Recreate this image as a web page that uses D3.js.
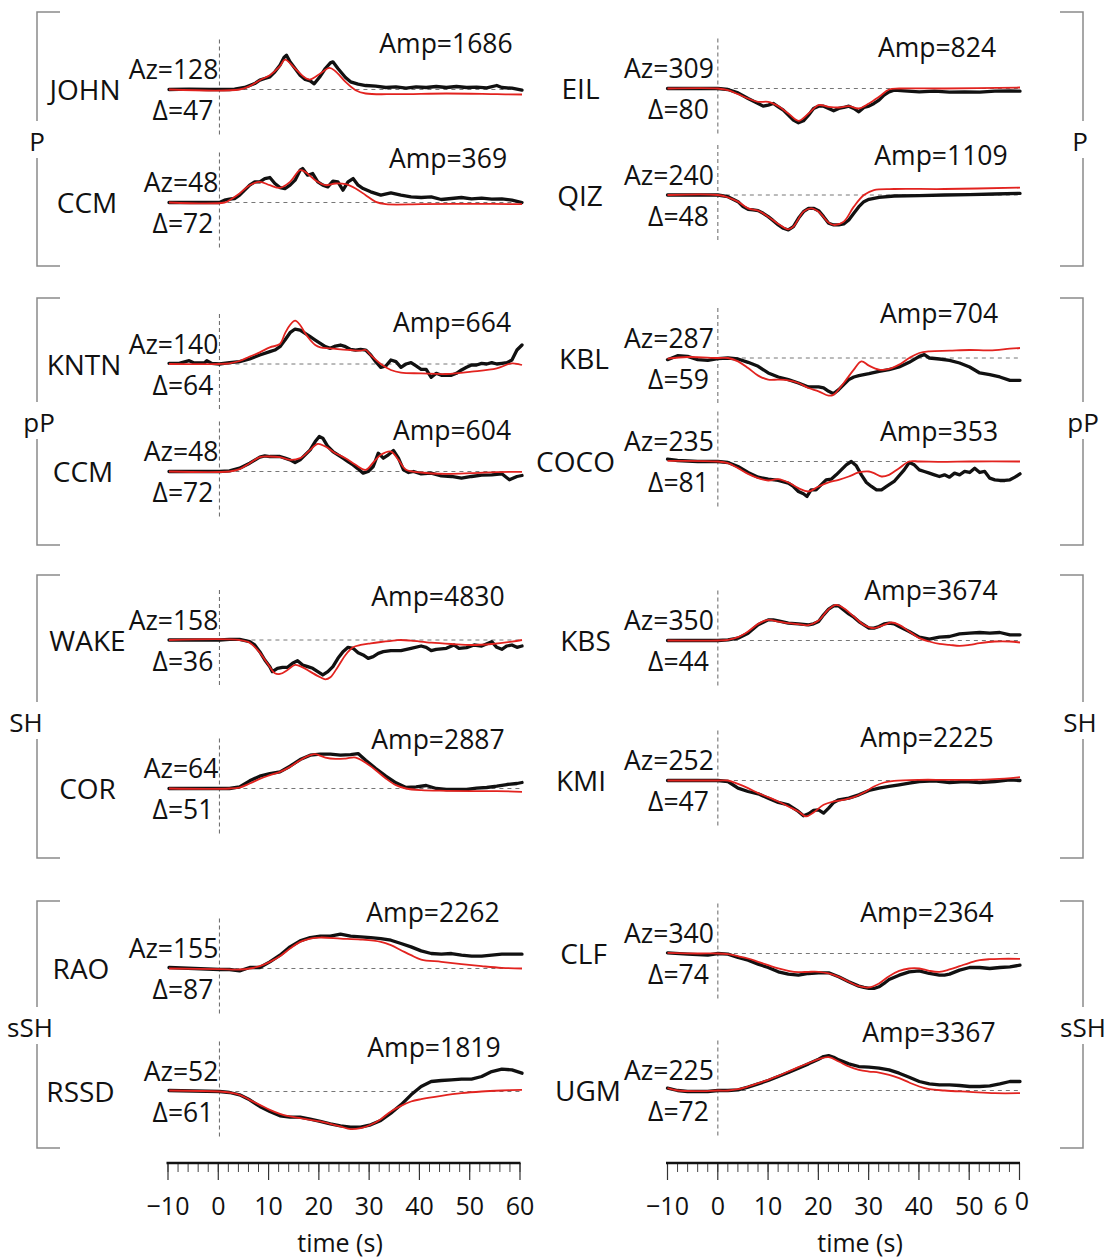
<!DOCTYPE html>
<html>
<head>
<meta charset="utf-8">
<script src="https://cdn.jsdelivr.net/npm/d3@7"></script>
<style>
  body { margin: 0; background: #fff; }
  svg { display: block; }
  text { font-family: "Open Sans", "Noto Sans", sans-serif; fill: #111; }
</style>
</head>
<body>
<svg id="chart" width="1109" height="1259"></svg>
<script>
// ---- Station metadata (left column top→bottom, then right column) ----
const stations   = ["JOHN","CCM","KNTN","CCM","WAKE","COR","RAO","RSSD","EIL","QIZ","KBL","COCO","KBS","KMI","CLF","UGM"];
const azimuths   = [128,48,140,48,158,64,155,52,309,240,287,235,350,252,340,225];
const distances  = [47,72,64,72,36,51,87,61,80,48,59,81,44,47,74,72];
const amplitudes = [1686,369,664,604,4830,2887,2262,1819,824,1109,704,353,3674,2225,2364,3367];
const phases     = ["P","pP","SH","sSH"];
const timeTicks  = [-10,0,10,20,30,40,50,60];

// ---- Waveforms: [time (s), normalised displacement]; obs = data, syn = synthetic ----
const johnObs = [[-10,0],[-6,0.01],[-2,0],[2,0],[3,0.01],[5,0.06],[7,0.18],[8,0.28],[9,0.33],[10,0.38],[11,0.53],[12,0.73],[12.8,0.96],[13.3,1.03],[14,0.83],[15,0.63],[16,0.43],[17,0.30],[18,0.26],[18.8,0.17],[20,0.40],[21,0.63],[22,0.80],[22.5,0.83],[23.5,0.63],[25,0.36],[26,0.23],[27.5,0.16],[29,0.12],[31,0.10],[33,0.06],[35,0.08],[37,0.04],[39,0.08],[41,0.06],[43,0.09],[45,0.06],[47,0.09],[49,0.06],[51,0.07],[53,0.05],[55,0.12],[56,0.06],[58,0.04],[60,-0.02]];
const johnSyn = [[-10,0],[4,0],[6,0.10],[8,0.28],[10,0.43],[12,0.70],[13,0.90],[15,0.63],[17,0.35],[18,0.30],[20,0.48],[21.8,0.65],[23,0.55],[25,0.23],[27,-0.02],[29,-0.12],[35,-0.14],[45,-0.12],[55,-0.14],[60,-0.15]];

const ccmPObs = [[-10,0],[0,0],[1,0.07],[2,0.10],[3,0.12],[4,0.22],[5,0.37],[6,0.52],[7,0.62],[8,0.62],[9,0.72],[10,0.75],[11,0.57],[12,0.45],[13,0.42],[14,0.52],[15,0.67],[16,0.97],[16.5,1.02],[17.5,0.82],[18.5,0.87],[19.5,0.62],[20.5,0.52],[21.5,0.47],[22.5,0.64],[23.5,0.62],[24.5,0.37],[25.5,0.62],[26.5,0.72],[27.5,0.52],[28.5,0.42],[30,0.32],[32,0.22],[34,0.29],[36,0.22],[38,0.17],[40,0.15],[42,0.17],[44,0.09],[46,0.12],[48,0.15],[50,0.11],[52,0.13],[54,0.10],[56,0.11],[58,0.07],[60,0]];
const ccmPSyn = [[-10,0],[1,0],[2,0.07],[4,0.27],[6,0.52],[8,0.62],[10,0.52],[12,0.44],[14,0.62],[16,0.97],[17,0.92],[19,0.67],[21,0.52],[23,0.57],[25,0.55],[27,0.42],[29,0.22],[31,0.02],[33,-0.05],[40,-0.05],[50,-0.04],[60,-0.05]];

const kntnObs = [[-10,0.02],[-8,0.02],[-6,0.10],[-5,0.03],[-3,0.03],[-2.5,0.10],[-1.5,0.02],[0,0],[2,0.04],[4,0.07],[6,0.15],[8,0.27],[10,0.37],[11,0.42],[12,0.52],[13,0.72],[14,0.94],[15,1.05],[16,1.02],[17,0.92],[18,0.82],[19,0.72],[20,0.62],[21,0.52],[22,0.47],[23,0.54],[24,0.57],[25,0.52],[26,0.44],[27,0.42],[28,0.44],[29,0.42],[30,0.27],[31,0.07],[32,-0.10],[33,-0.06],[34,0.12],[35,0.07],[36,-0.10],[37,0],[38,0.04],[39,-0.06],[40,-0.16],[41,-0.16],[42,-0.40],[43,-0.28],[44,-0.34],[45,-0.33],[46,-0.34],[47,-0.28],[48,-0.18],[49,-0.10],[50,-0.03],[51,-0.03],[52,0.02],[53,0],[54,0.04],[55,0],[56,0.02],[57,0.04],[58,0.12],[59,0.42],[60,0.57]];
const kntnSyn = [[-10,0],[0,0],[2,0.02],[4,0.09],[6,0.22],[8,0.35],[10,0.50],[12,0.60],[13,0.92],[14,1.17],[15,1.30],[16,1.17],[17,0.92],[18,0.72],[19,0.57],[20,0.50],[22,0.47],[24,0.44],[26,0.42],[28,0.40],[29,0.42],[30,0.27],[32,0],[34,-0.18],[36,-0.26],[40,-0.28],[45,-0.30],[50,-0.23],[55,-0.13],[58,0.02],[60,-0.03]];

const ccmPPObs = [[-10,0],[0,0],[2,0.02],[4,0.10],[6,0.25],[8,0.43],[9,0.47],[10,0.45],[11,0.45],[12,0.45],[13,0.40],[14,0.35],[15,0.27],[16,0.35],[17,0.50],[18,0.65],[19,0.90],[19.8,1.05],[20.5,1.00],[21.5,0.75],[22.5,0.60],[23.5,0.50],[24.5,0.40],[25.5,0.30],[26.5,0.20],[27.5,0.08],[28.5,-0.05],[29.5,0],[30.5,0.15],[31.5,0.55],[32.5,0.40],[33.5,0.50],[34.5,0.63],[35.5,0.40],[36.5,0.05],[37.5,-0.03],[38.5,0],[40,-0.07],[42,-0.05],[44,-0.13],[46,-0.15],[48,-0.20],[50,-0.15],[52,-0.11],[54,-0.10],[56,-0.07],[57.5,-0.25],[59,-0.15],[60,-0.12]];
const ccmPPSyn = [[-10,0],[2,0],[4,0.07],[6,0.25],[8,0.43],[10,0.45],[12,0.43],[14,0.35],[16,0.40],[18,0.65],[19.5,0.83],[21,0.75],[23,0.55],[25,0.40],[27,0.20],[29,0.05],[30.5,0.27],[32,0.50],[34,0.60],[35.5,0.35],[37,0.05],[40,-0.03],[45,-0.07],[50,-0.05],[55,-0.02],[60,-0.01]];

const wakeObs = [[-10,0],[0,0],[2,0.02],[4,0.02],[6,-0.05],[7,-0.15],[8,-0.35],[9,-0.60],[10,-0.80],[10.5,-0.95],[11.5,-0.85],[12.5,-0.82],[13.5,-0.82],[14.5,-0.70],[15.5,-0.62],[16.5,-0.75],[17.5,-0.80],[18.5,-0.85],[19.5,-0.95],[20.5,-1.05],[21.5,-0.95],[22.5,-0.80],[23.5,-0.55],[24.5,-0.35],[25.5,-0.22],[26.5,-0.25],[27.5,-0.38],[28.5,-0.45],[29.5,-0.55],[30.5,-0.50],[31.5,-0.40],[32.5,-0.35],[34,-0.32],[36,-0.32],[38,-0.25],[40,-0.18],[41,-0.22],[42,-0.32],[43,-0.28],[45,-0.25],[46.5,-0.15],[47.5,-0.25],[49,-0.23],[50.5,-0.15],[52,-0.18],[54,-0.05],[55,-0.22],[56,-0.28],[57,-0.18],[58,-0.15],[59,-0.22],[60,-0.18]];
const wakeSyn = [[-10,0],[4,0],[6,-0.08],[8,-0.38],[9.5,-0.70],[11,-1.00],[12,-1.02],[13.5,-0.90],[15,-0.75],[16.5,-0.82],[18,-0.95],[20,-1.12],[21,-1.18],[22,-1.12],[23.5,-0.80],[25,-0.45],[26.5,-0.22],[28,-0.15],[30,-0.10],[32,-0.06],[35,-0.01],[36,0],[38,-0.02],[42,-0.08],[46,-0.12],[50,-0.15],[54,-0.12],[58,-0.05],[60,0]];

const corObs = [[-10,0],[0,0],[2,0],[4,0.05],[6,0.23],[8,0.37],[10,0.45],[12,0.50],[14,0.67],[16,0.87],[18,1.00],[20,1.03],[22,1.03],[24,1.00],[26,1.02],[27.5,1.05],[29,0.85],[31,0.60],[33,0.37],[35,0.17],[37,0.03],[39,0.05],[41,0.09],[43,0],[45,-0.03],[47,-0.03],[49,-0.03],[51,0.01],[53,0.03],[55,0.07],[57,0.12],[59,0.15],[60,0.18]];
const corSyn = [[-10,0],[2,0],[4,0.03],[6,0.15],[8,0.29],[10,0.40],[12,0.50],[14,0.65],[16,0.85],[18,1.00],[19,1.03],[21,0.93],[23,0.89],[25,0.90],[27,0.93],[29,0.77],[31,0.55],[33,0.30],[35,0.10],[37,0],[40,-0.05],[45,-0.07],[50,-0.08],[55,-0.08],[60,-0.10]];

const raoObs = [[-10,0.03],[-5,0],[0,-0.03],[2,-0.03],[4,-0.07],[6,0.03],[8,0.03],[10,0.20],[12,0.40],[14,0.65],[16,0.83],[18,0.93],[20,0.97],[22,0.97],[24,1.03],[26,0.97],[28,0.95],[30,0.93],[32,0.90],[34,0.85],[36,0.75],[38,0.65],[40,0.53],[42,0.45],[44,0.43],[46,0.45],[48,0.40],[50,0.37],[52,0.37],[54,0.40],[56,0.43],[58,0.43],[60,0.43]];
const raoSyn = [[-10,0],[0,-0.02],[4,-0.03],[6,0],[8,0.07],[10,0.20],[12,0.37],[14,0.60],[16,0.80],[18,0.90],[20,0.93],[24,0.90],[28,0.87],[32,0.80],[34,0.70],[36,0.55],[38,0.40],[40,0.27],[44,0.20],[48,0.13],[52,0.07],[56,0.02],[60,0]];

const rssdObs = [[-10,0.03],[0,0],[2,-0.03],[4,-0.10],[6,-0.25],[8,-0.45],[10,-0.60],[12,-0.73],[14,-0.77],[16,-0.77],[18,-0.83],[20,-0.90],[22,-0.97],[24,-1.03],[26,-1.07],[28,-1.07],[30,-1.00],[32,-0.87],[34,-0.65],[36,-0.40],[38,-0.10],[40,0.15],[42,0.30],[44,0.33],[46,0.35],[48,0.37],[50,0.37],[52,0.45],[54,0.60],[56,0.67],[58,0.65],[60,0.55]];
const rssdSyn = [[-10,0.03],[0,0],[2,-0.03],[4,-0.10],[6,-0.25],[8,-0.40],[10,-0.55],[12,-0.67],[14,-0.75],[16,-0.80],[18,-0.85],[20,-0.90],[22,-0.97],[24,-1.05],[26,-1.13],[28,-1.10],[30,-1.00],[32,-0.83],[34,-0.60],[36,-0.43],[38,-0.30],[40,-0.23],[44,-0.13],[48,-0.05],[52,0],[56,0.03],[60,0.05]];

const eilObs = [[-10,0],[0,0],[2,-0.03],[4,-0.13],[6,-0.30],[8,-0.45],[9,-0.53],[10,-0.50],[11,-0.45],[12,-0.55],[13,-0.65],[14,-0.80],[15,-0.95],[16,-1.03],[17,-0.97],[18,-0.80],[19,-0.60],[20,-0.53],[21,-0.53],[22,-0.60],[23,-0.67],[24,-0.60],[25,-0.57],[26,-0.53],[27,-0.60],[28,-0.70],[29,-0.57],[30,-0.53],[31,-0.45],[32,-0.35],[33,-0.20],[34,-0.10],[35,-0.05],[37,-0.07],[40,-0.10],[43,-0.08],[46,-0.11],[49,-0.10],[52,-0.11],[55,-0.08],[58,-0.07],[60,-0.08]];
const eilSyn = [[-10,0],[0,0],[2,-0.05],[4,-0.17],[6,-0.30],[8,-0.40],[10,-0.40],[12,-0.53],[14,-0.75],[16,-0.97],[18,-0.75],[20,-0.50],[22,-0.55],[24,-0.57],[26,-0.53],[28,-0.60],[30,-0.45],[32,-0.25],[34,-0.03],[36,0],[45,0],[60,0.03]];

const qizObs = [[-10,0],[0,0],[2,-0.05],[4,-0.20],[5,-0.35],[6,-0.43],[7,-0.45],[8,-0.47],[9,-0.55],[10,-0.65],[11,-0.77],[12,-0.90],[13,-1.00],[14,-1.05],[15,-0.95],[16,-0.70],[17,-0.50],[18,-0.40],[19,-0.40],[20,-0.47],[21,-0.65],[22,-0.85],[23,-0.90],[24,-0.90],[25,-0.87],[26,-0.75],[27,-0.55],[28,-0.35],[29,-0.20],[30,-0.13],[32,-0.07],[35,-0.03],[40,-0.02],[45,0],[50,0.01],[55,0.03],[60,0.05]];
const qizSyn = [[-10,0],[0,0],[2,-0.07],[4,-0.20],[6,-0.40],[8,-0.47],[10,-0.65],[12,-0.87],[14,-1.03],[15,-0.95],[17,-0.50],[18.5,-0.40],[20,-0.50],[22,-0.83],[23,-0.90],[25,-0.80],[27,-0.35],[29,0],[31,0.15],[35,0.18],[45,0.18],[60,0.22]];

const kblObs = [[-10,-0.05],[-8,0.07],[-6,0.05],[-4,-0.05],[-2,-0.07],[0,-0.02],[2,0],[4,-0.03],[6,-0.13],[8,-0.25],[10,-0.45],[12,-0.57],[14,-0.65],[16,-0.75],[18,-0.87],[20,-0.87],[21,-0.90],[22,-1.00],[23,-1.07],[24,-0.95],[25,-0.80],[26,-0.65],[27,-0.57],[28,-0.53],[30,-0.47],[32,-0.40],[34,-0.35],[36,-0.27],[38,-0.13],[40,0.05],[41,0.10],[42,0],[44,-0.03],[46,-0.07],[48,-0.15],[50,-0.27],[52,-0.45],[54,-0.50],[56,-0.57],[58,-0.67],[60,-0.67]];
const kblSyn = [[-10,-0.02],[-6,0.03],[0,0],[2,0],[4,-0.10],[6,-0.30],[8,-0.53],[10,-0.65],[12,-0.65],[14,-0.67],[16,-0.75],[18,-0.90],[20,-1.00],[22,-1.13],[23,-1.10],[25,-0.75],[27,-0.35],[28.5,-0.10],[30,-0.23],[32,-0.35],[34,-0.33],[36,-0.20],[38,0],[40,0.15],[42,0.20],[46,0.22],[50,0.24],[54,0.23],[58,0.28],[60,0.30]];

const cocoObs = [[-10,0.07],[-8,0.03],[-4,0],[0,0],[2,-0.03],[4,-0.15],[6,-0.33],[8,-0.47],[10,-0.53],[12,-0.57],[14,-0.65],[15,-0.75],[16,-0.90],[17,-0.97],[17.7,-1.05],[18.5,-0.85],[19.5,-0.85],[20.5,-0.70],[21.5,-0.55],[22.5,-0.53],[23.5,-0.40],[24.5,-0.25],[25.5,-0.10],[26.5,0],[27.5,-0.13],[28.5,-0.40],[29.5,-0.63],[30.5,-0.75],[31.5,-0.85],[32.5,-0.85],[33.5,-0.75],[35,-0.60],[37,-0.25],[38,-0.03],[39,-0.10],[40,-0.25],[41,-0.30],[42,-0.35],[43,-0.40],[44,-0.45],[45,-0.40],[46,-0.47],[47,-0.35],[48,-0.40],[49,-0.30],[50,-0.33],[51,-0.20],[52,-0.33],[53,-0.30],[54,-0.50],[55,-0.55],[56,-0.57],[57,-0.57],[58,-0.55],[59,-0.47],[60,-0.37]];
const cocoSyn = [[-10,0.02],[0,0],[2,-0.05],[4,-0.20],[6,-0.37],[8,-0.50],[10,-0.57],[12,-0.53],[14,-0.63],[16,-0.80],[18,-0.90],[20,-0.75],[22,-0.63],[24,-0.55],[26,-0.45],[28,-0.33],[30,-0.30],[31,-0.35],[32.5,-0.45],[34,-0.40],[36,-0.20],[38,0],[40,0],[45,-0.01],[50,0],[60,0]];

const kbsObs = [[-10,0],[0,0],[2,0.02],[4,0.07],[6,0.22],[8,0.47],[10,0.62],[11,0.62],[12,0.59],[14,0.52],[16,0.50],[18,0.47],[19,0.50],[20,0.57],[21,0.77],[22,0.94],[23,1.04],[24,1.04],[25,0.92],[26,0.80],[27,0.70],[28,0.57],[29,0.47],[30,0.37],[31,0.37],[32,0.42],[33,0.50],[34,0.52],[35,0.50],[36,0.42],[38,0.27],[40,0.10],[42,0.04],[44,0.10],[46,0.12],[48,0.20],[50,0.22],[52,0.24],[54,0.22],[56,0.24],[58,0.17],[60,0.17]];
const kbsSyn = [[-10,0],[0,0],[2,0.02],[4,0.10],[6,0.27],[8,0.50],[10,0.62],[12,0.57],[14,0.52],[16,0.49],[18,0.46],[20,0.60],[22,0.94],[23.5,1.07],[25,0.97],[27,0.72],[29,0.47],[31,0.37],[33,0.47],[34.5,0.54],[36,0.47],[38,0.27],[40,0.07],[42,-0.03],[44,-0.10],[46,-0.13],[48,-0.16],[50,-0.13],[52,-0.08],[55,-0.03],[58,-0.03],[60,-0.06]];

const kmiObs = [[-10,0],[0,0],[2,-0.03],[4,-0.23],[6,-0.33],[8,-0.40],[10,-0.53],[12,-0.66],[14,-0.73],[15,-0.83],[16,-0.93],[17,-1.06],[18,-1.00],[19,-0.90],[20,-0.88],[21,-0.98],[22,-0.83],[23,-0.66],[24,-0.58],[26,-0.53],[28,-0.43],[30,-0.30],[32,-0.23],[34,-0.18],[36,-0.13],[38,-0.08],[40,-0.03],[43,-0.01],[46,-0.06],[49,-0.03],[52,-0.06],[55,-0.03],[58,0.02],[60,0]];
const kmiSyn = [[-10,0],[0,0],[2,0],[4,-0.10],[6,-0.23],[8,-0.38],[10,-0.50],[12,-0.63],[14,-0.78],[16,-0.93],[17.5,-1.08],[19,-0.96],[21,-0.73],[23,-0.63],[25,-0.58],[27,-0.50],[29,-0.36],[31,-0.18],[33,-0.06],[35,-0.01],[40,0.02],[45,0.02],[50,0.02],[55,0.04],[60,0.10]];

const clfObs = [[-10,0.02],[-6,-0.02],[-2,-0.05],[0,0],[2,-0.02],[4,-0.12],[6,-0.20],[8,-0.32],[10,-0.42],[12,-0.55],[14,-0.62],[16,-0.65],[18,-0.60],[20,-0.58],[22,-0.58],[24,-0.70],[26,-0.85],[28,-0.98],[29,-1.02],[30,-1.05],[31,-1.05],[32,-1.00],[33,-0.90],[34,-0.78],[36,-0.65],[38,-0.55],[40,-0.52],[42,-0.60],[44,-0.65],[45,-0.65],[46,-0.62],[48,-0.50],[50,-0.42],[52,-0.42],[54,-0.45],[56,-0.42],[58,-0.40],[60,-0.35]];
const clfSyn = [[-10,0.02],[-4,0],[0,0],[2,-0.02],[4,-0.08],[6,-0.15],[8,-0.25],[10,-0.35],[12,-0.45],[14,-0.52],[16,-0.56],[18,-0.55],[20,-0.55],[22,-0.60],[24,-0.70],[26,-0.85],[28,-0.98],[30,-1.02],[32,-0.90],[34,-0.68],[36,-0.52],[38,-0.45],[40,-0.45],[42,-0.52],[44,-0.55],[46,-0.48],[48,-0.38],[50,-0.28],[52,-0.20],[54,-0.17],[56,-0.16],[60,-0.16]];

const ugmObs = [[-10,0.07],[-8,0],[-6,-0.03],[-2,-0.03],[0,0],[2,0],[4,0.02],[6,0.10],[8,0.20],[10,0.30],[12,0.42],[14,0.54],[16,0.67],[18,0.80],[20,0.94],[21,1.02],[22,1.05],[23,1.00],[24,0.92],[26,0.80],[28,0.72],[30,0.70],[32,0.67],[34,0.62],[36,0.52],[38,0.40],[40,0.27],[42,0.20],[44,0.17],[46,0.17],[48,0.15],[50,0.12],[52,0.12],[54,0.14],[56,0.20],[58,0.27],[60,0.27]];
const ugmSyn = [[-10,0.07],[-8,0],[-4,-0.02],[0,0],[2,0],[4,0.04],[6,0.12],[8,0.22],[10,0.32],[12,0.44],[14,0.57],[16,0.70],[18,0.82],[20,0.94],[22,1.00],[24,0.87],[26,0.72],[28,0.62],[30,0.57],[32,0.54],[34,0.47],[36,0.37],[38,0.24],[40,0.12],[42,0.04],[45,0],[50,-0.04],[55,-0.08],[60,-0.08]];

const waveforms = [
  [johnObs, johnSyn], [ccmPObs, ccmPSyn], [kntnObs, kntnSyn], [ccmPPObs, ccmPPSyn],
  [wakeObs, wakeSyn], [corObs, corSyn], [raoObs, raoSyn], [rssdObs, rssdSyn],
  [eilObs, eilSyn], [qizObs, qizSyn], [kblObs, kblSyn], [cocoObs, cocoSyn],
  [kbsObs, kbsSyn], [kmiObs, kmiSyn], [clfObs, clfSyn], [ugmObs, ugmSyn]
];

// ---- Layout ----
const columns = [
  { traceRange: [169, 522],   axisRange: [167.5, 519.5], azDx: -1, distDx: -6,
    bracketX: 37,   bracketDir: 1,  phaseX: [37, 39, 26, 30],         timeLabelX: 340 },
  { traceRange: [667.5, 1020], axisRange: [667, 1019],   azDx: -4, distDx: -9,
    bracketX: 1083, bracketDir: -1, phaseX: [1080, 1083, 1080, 1083], timeLabelX: 860 }
];
const baselines   = [89.5, 202.5, 364, 471.5, 640, 788.5, 968.5, 1091.5,
                     88.5, 195, 358, 461.5, 640.5, 780.5, 953.5, 1090.5];
const stationLabelX = [85, 87, 84, 83, 87.5, 87.5, 81, 80.5,
                       580.5, 580, 584, 575.5, 585.5, 581, 583.5, 588];
const ampLabelPos = [[446,53],[448,168],[452,332],[452,440],[438,606],[438,749],[433,922],[434,1057],
                     [937,57],[941,165],[939,323],[939,441],[931,600],[927,747],[927,922],[929,1042]];
const bracketSpans = [[12, 266], [298, 545], [575, 858], [901, 1148]];
const phaseLabelY  = [141, 422, 722, 1027];
const axisY = 1163;
const pxPerUnit = 33.3;
const RED = "#e2231f";

const svg = d3.select("#chart");

// ---- Seismogram panels ----
stations.forEach((name, i) => {
  const col = columns[i < 8 ? 0 : 1];
  const base = baselines[i];
  const x = d3.scaleLinear().domain([-10, 60]).range(col.traceRange);
  const y = d3.scaleLinear().domain([-1, 1]).range([base + pxPerUnit, base - pxPerUnit]);
  const g = svg.append("g").attr("class", "panel");

  // reference lines: zero time and zero displacement
  g.append("line")
    .attr("x1", x(0)).attr("x2", x(0))
    .attr("y1", base - 50).attr("y2", base + 45)
    .attr("stroke", "#666").attr("stroke-width", 1).attr("stroke-dasharray", "4,3");
  g.append("line")
    .attr("x1", x(0)).attr("x2", x(60))
    .attr("y1", y(0)).attr("y2", y(0))
    .attr("stroke", "#777").attr("stroke-width", 1).attr("stroke-dasharray", "4,4");

  const [obs, syn] = waveforms[i];
  const lineObs = d3.line().x(d => x(d[0])).y(d => y(d[1])).curve(d3.curveLinear);
  const lineSyn = d3.line().x(d => x(d[0])).y(d => y(d[1])).curve(d3.curveCatmullRom.alpha(0.5));

  g.append("path").datum(obs).attr("d", lineObs)
    .attr("fill", "none").attr("stroke", "#111").attr("stroke-width", 3.3)
    .attr("stroke-linejoin", "round").attr("stroke-linecap", "round");
  g.append("path").datum(syn).attr("d", lineSyn)
    .attr("fill", "none").attr("stroke", RED).attr("stroke-width", 1.8)
    .attr("stroke-linejoin", "round");

  // labels
  g.append("text").attr("x", stationLabelX[i]).attr("y", base + 10.5)
    .attr("text-anchor", "middle").attr("font-size", 28).text(name);
  g.append("text").attr("x", x(0) + col.azDx).attr("y", base - 10.5)
    .attr("text-anchor", "end").attr("font-size", 26.5).text("Az=" + azimuths[i]);
  g.append("text").attr("x", x(0) + col.distDx).attr("y", base + 30.5)
    .attr("text-anchor", "end").attr("font-size", 26.5).text("Δ=" + distances[i]);
  g.append("text").attr("x", ampLabelPos[i][0]).attr("y", ampLabelPos[i][1])
    .attr("text-anchor", "middle").attr("font-size", 26.5).text("Amp=" + amplitudes[i]);
});

// ---- Phase brackets ----
columns.forEach(col => {
  phases.forEach((ph, k) => {
    const [top, bot] = bracketSpans[k];
    const ly = phaseLabelY[k];
    const bx = col.bracketX, d = col.bracketDir;
    const p = d3.path();
    p.moveTo(bx + 23 * d, top); p.lineTo(bx, top); p.lineTo(bx, ly - 20);
    p.moveTo(bx, ly + 17); p.lineTo(bx, bot); p.lineTo(bx + 23 * d, bot);
    svg.append("path").attr("d", p.toString())
      .attr("fill", "none").attr("stroke", "#8a8a8a").attr("stroke-width", 1.5);
    svg.append("text").attr("x", col.phaseX[k]).attr("y", ly + 9.5)
      .attr("text-anchor", "middle").attr("font-size", 26).text(ph);
  });
});

// ---- Time axes ----
columns.forEach((col, c) => {
  const x = d3.scaleLinear().domain([-10, 60]).range(col.axisRange);

  const minor = svg.append("g").attr("transform", `translate(0,${axisY})`)
    .call(d3.axisBottom(x).tickValues(d3.range(-10, 61, 2)).tickSize(9).tickSizeOuter(0).tickFormat(""));
  minor.select(".domain").remove();
  minor.selectAll(".tick line").attr("stroke", "#444").attr("stroke-width", 1);

  const major = svg.append("g").attr("transform", `translate(0,${axisY})`)
    .call(d3.axisBottom(x).tickValues(timeTicks).tickSize(17).tickSizeOuter(0).tickPadding(17));
  major.select(".domain").remove();
  major.attr("font-size", null).attr("font-family", null);
  major.selectAll(".tick line").attr("stroke", "#333").attr("stroke-width", 1.2);
  major.selectAll(".tick text").attr("font-size", 25).attr("fill", "#111");

  if (c === 1) {
    // the last label on the right-hand axis is typeset with a raised final digit
    const t60 = major.selectAll(".tick").filter(d => d === 60).select("text");
    t60.text("6").attr("text-anchor", "start").attr("x", -26);
    t60.append("tspan").attr("dx", 7).attr("dy", -5).text("0");
  }

  svg.append("line")
    .attr("x1", col.axisRange[0] - 1).attr("x2", col.axisRange[1] + 1)
    .attr("y1", axisY).attr("y2", axisY)
    .attr("stroke", "#111").attr("stroke-width", 2.5);

  svg.append("text").attr("x", col.timeLabelX).attr("y", 1252)
    .attr("text-anchor", "middle").attr("font-size", 25).text("time (s)");
});
</script>
</body>
</html>
